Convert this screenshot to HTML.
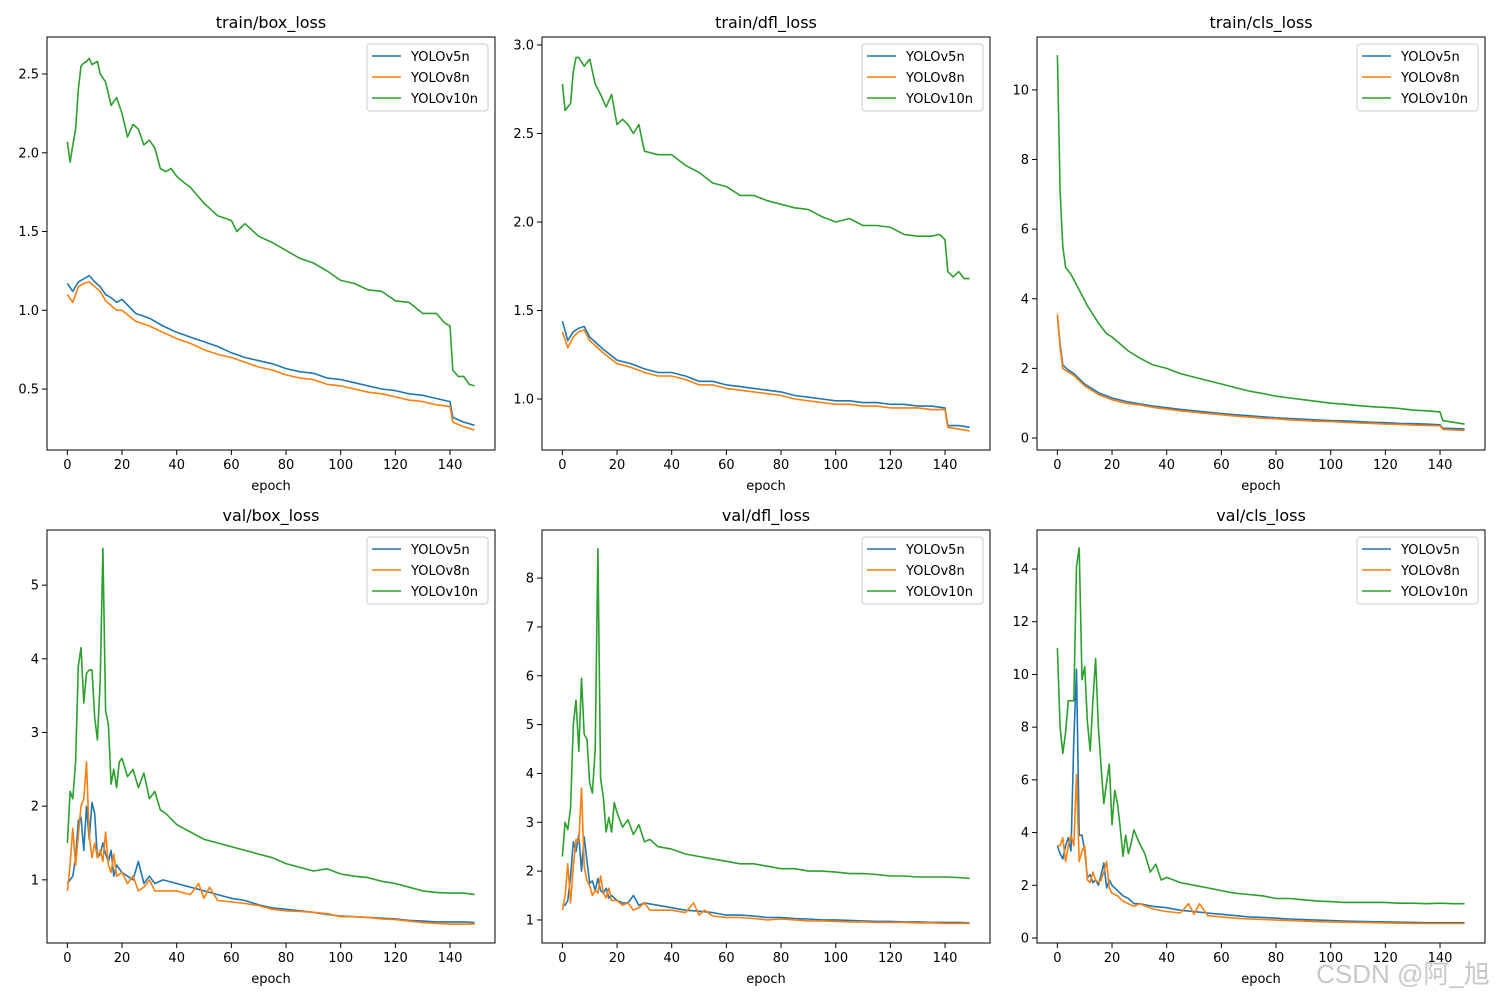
<!DOCTYPE html>
<html><head><meta charset="utf-8"><style>
body{margin:0;background:#fff}
svg{display:block;font-family:"DejaVu Sans","Liberation Sans",sans-serif}
</style></head><body>
<svg id="fig" width="1500" height="1000" viewBox="0 0 1500 1000" xmlns="http://www.w3.org/2000/svg">
<rect width="1500" height="1000" fill="#fff"/>
<text x="1403" y="983" font-size="26" fill="#c8c8c8" text-anchor="middle" font-family="Liberation Sans, Noto Sans CJK SC, sans-serif">CSDN @阿_旭</text>
</svg>
<script>
const seriesNames = ["YOLOv5n","YOLOv8n","YOLOv10n"];
const colors = ["#1f77b4","#ff7f0e","#2ca02c"];
const xTicks = [0,20,40,60,80,100,120,140];
const titles = ["train/box_loss","train/dfl_loss","train/cls_loss","val/box_loss","val/dfl_loss","val/cls_loss"];
const yTicks1 = [0.5,1.0,1.5,2.0,2.5];
const yTicks2 = [1.0,1.5,2.0,2.5,3.0];
const yTicks3 = [0,2,4,6,8,10];
const yTicks4 = [1,2,3,4,5];
const yTicks5 = [1,2,3,4,5,6,7,8];
const yTicks6 = [0,2,4,6,8,10,12,14];
const yDomains = [[0.113,2.735],[0.712,3.045],[-0.345,11.52],[0.143,5.748],[0.528,8.985],[-0.19,15.48]];

const p1v5 = [[0,1.17],[2,1.12],[4,1.18],[6,1.2],[8,1.22],[10,1.18],[12,1.15],[14,1.1],[16,1.08],[18,1.05],[20,1.07],[25,0.98],[30,0.95],[35,0.9],[40,0.86],[45,0.83],[50,0.8],[55,0.77],[60,0.73],[65,0.7],[70,0.68],[75,0.66],[80,0.63],[85,0.61],[90,0.6],[95,0.57],[100,0.56],[105,0.54],[110,0.52],[115,0.5],[120,0.49],[125,0.47],[130,0.46],[135,0.44],[140,0.42],[141,0.32],[145,0.29],[149,0.27]];
const p1v8 = [[0,1.1],[2,1.05],[4,1.15],[6,1.17],[8,1.18],[10,1.15],[12,1.12],[14,1.06],[16,1.03],[18,1.0],[20,1.0],[25,0.93],[30,0.9],[35,0.86],[40,0.82],[45,0.79],[50,0.75],[55,0.72],[60,0.7],[65,0.67],[70,0.64],[75,0.62],[80,0.59],[85,0.57],[90,0.56],[95,0.53],[100,0.52],[105,0.5],[110,0.48],[115,0.47],[120,0.45],[125,0.43],[130,0.42],[135,0.4],[140,0.39],[141,0.29],[145,0.26],[149,0.24]];
const p1v10 = [[0,2.07],[1,1.94],[2,2.05],[3,2.15],[4,2.4],[5,2.55],[6,2.57],[7,2.58],[8,2.6],[9,2.56],[10,2.57],[11,2.58],[12,2.5],[14,2.45],[16,2.3],[18,2.35],[20,2.25],[22,2.1],[24,2.18],[26,2.15],[28,2.05],[30,2.08],[32,2.03],[34,1.9],[36,1.88],[38,1.9],[40,1.85],[42,1.82],[45,1.78],[48,1.72],[50,1.68],[55,1.6],[60,1.57],[62,1.5],[65,1.55],[70,1.47],[75,1.43],[80,1.38],[85,1.33],[90,1.3],[95,1.25],[100,1.19],[105,1.17],[110,1.13],[115,1.12],[120,1.06],[125,1.05],[130,0.98],[135,0.98],[138,0.92],[140,0.9],[141,0.62],[143,0.58],[145,0.58],[147,0.53],[149,0.52]];

const p2v5 = [[0,1.44],[2,1.33],[4,1.38],[6,1.4],[8,1.41],[10,1.35],[15,1.28],[20,1.22],[25,1.2],[30,1.17],[35,1.15],[40,1.15],[45,1.13],[50,1.1],[55,1.1],[60,1.08],[65,1.07],[70,1.06],[75,1.05],[80,1.04],[85,1.02],[90,1.01],[95,1.0],[100,0.99],[105,0.99],[110,0.98],[115,0.98],[120,0.97],[125,0.97],[130,0.96],[135,0.96],[140,0.95],[141,0.85],[145,0.85],[149,0.84]];
const p2v8 = [[0,1.38],[2,1.29],[4,1.35],[6,1.38],[8,1.39],[10,1.33],[15,1.26],[20,1.2],[25,1.18],[30,1.15],[35,1.13],[40,1.13],[45,1.11],[50,1.08],[55,1.08],[60,1.06],[65,1.05],[70,1.04],[75,1.03],[80,1.02],[85,1.0],[90,0.99],[95,0.98],[100,0.97],[105,0.97],[110,0.96],[115,0.96],[120,0.95],[125,0.95],[130,0.95],[135,0.94],[140,0.94],[141,0.84],[145,0.83],[149,0.82]];
const p2v10 = [[0,2.78],[1,2.63],[2,2.65],[3,2.67],[4,2.85],[5,2.93],[6,2.93],[8,2.88],[10,2.92],[12,2.78],[14,2.72],[16,2.65],[18,2.72],[20,2.55],[22,2.58],[24,2.55],[26,2.5],[28,2.55],[30,2.4],[35,2.38],[40,2.38],[45,2.32],[50,2.28],[55,2.22],[60,2.2],[65,2.15],[70,2.15],[75,2.12],[80,2.1],[85,2.08],[90,2.07],[95,2.03],[100,2.0],[105,2.02],[110,1.98],[115,1.98],[120,1.97],[125,1.93],[130,1.92],[135,1.92],[138,1.93],[140,1.9],[141,1.72],[143,1.69],[145,1.72],[147,1.68],[149,1.68]];

const p3v5 = [[0,3.5],[1,2.7],[2,2.1],[4,1.95],[6,1.85],[8,1.7],[10,1.55],[15,1.3],[20,1.15],[25,1.05],[30,0.98],[35,0.92],[40,0.87],[45,0.82],[50,0.78],[55,0.74],[60,0.7],[65,0.67],[70,0.64],[75,0.61],[80,0.58],[85,0.56],[90,0.54],[95,0.52],[100,0.5],[105,0.49],[110,0.47],[115,0.45],[120,0.44],[125,0.42],[130,0.41],[135,0.4],[140,0.38],[141,0.28],[145,0.27],[149,0.26]];
const p3v8 = [[0,3.55],[1,2.6],[2,2.0],[4,1.9],[6,1.8],[8,1.65],[10,1.5],[15,1.25],[20,1.1],[25,1.0],[30,0.95],[35,0.88],[40,0.83],[45,0.78],[50,0.74],[55,0.7],[60,0.67],[65,0.63],[70,0.6],[75,0.57],[80,0.55],[85,0.52],[90,0.5],[95,0.48],[100,0.47],[105,0.45],[110,0.43],[115,0.42],[120,0.4],[125,0.39],[130,0.37],[135,0.36],[140,0.35],[141,0.25],[145,0.23],[149,0.22]];
const p3v10 = [[0,11.0],[1,7.1],[2,5.5],[3,4.9],[5,4.7],[7,4.4],[9,4.1],[11,3.8],[13,3.55],[15,3.3],[18,3.0],[20,2.9],[23,2.7],[26,2.5],[30,2.3],[35,2.1],[40,2.0],[45,1.85],[50,1.75],[55,1.65],[60,1.55],[65,1.45],[70,1.35],[75,1.28],[80,1.2],[85,1.15],[90,1.1],[95,1.05],[100,1.0],[105,0.97],[110,0.93],[115,0.9],[120,0.88],[125,0.85],[130,0.8],[135,0.78],[140,0.75],[141,0.5],[145,0.45],[149,0.4]];

const p4v5 = [[0,0.95],[1,1.0],[2,1.05],[3,1.3],[4,1.8],[5,1.85],[6,1.4],[7,2.0],[8,1.55],[9,2.05],[10,1.9],[11,1.3],[12,1.35],[13,1.5],[14,1.35],[15,1.25],[16,1.4],[17,1.05],[18,1.2],[20,1.1],[22,1.05],[24,1.0],[26,1.25],[28,0.95],[30,1.05],[32,0.95],[35,1.0],[40,0.95],[45,0.9],[50,0.85],[55,0.8],[60,0.75],[65,0.72],[70,0.66],[75,0.62],[80,0.6],[85,0.58],[90,0.56],[95,0.53],[100,0.51],[105,0.5],[110,0.49],[115,0.48],[120,0.47],[125,0.45],[130,0.44],[135,0.43],[140,0.43],[145,0.43],[149,0.42]];
const p4v8 = [[0,0.85],[1,1.2],[2,1.7],[3,1.2],[4,1.6],[5,2.0],[6,2.1],[7,2.6],[8,1.6],[9,1.3],[10,1.5],[11,1.3],[12,1.4],[13,1.25],[14,1.65],[15,1.2],[16,1.1],[17,1.35],[18,1.05],[20,1.1],[22,0.95],[24,1.05],[26,0.85],[28,0.9],[30,1.0],[32,0.85],[35,0.85],[40,0.85],[45,0.8],[48,0.95],[50,0.75],[52,0.9],[55,0.72],[60,0.7],[65,0.68],[70,0.65],[75,0.6],[80,0.58],[85,0.57],[90,0.56],[95,0.54],[100,0.5],[105,0.5],[110,0.49],[115,0.47],[120,0.46],[125,0.44],[130,0.42],[135,0.41],[140,0.4],[145,0.4],[149,0.4]];
const p4v10 = [[0,1.5],[1,2.2],[2,2.1],[3,2.6],[4,3.9],[5,4.15],[6,3.4],[7,3.8],[8,3.85],[9,3.85],[10,3.2],[11,2.9],[12,3.7],[13,5.5],[14,3.3],[15,3.1],[16,2.3],[17,2.5],[18,2.25],[19,2.6],[20,2.65],[22,2.4],[24,2.5],[26,2.25],[28,2.45],[30,2.1],[32,2.2],[34,1.95],[36,1.9],[40,1.75],[45,1.65],[50,1.55],[55,1.5],[60,1.45],[65,1.4],[70,1.35],[75,1.3],[80,1.22],[85,1.17],[90,1.12],[95,1.15],[100,1.08],[105,1.05],[110,1.03],[115,0.98],[120,0.95],[125,0.9],[130,0.85],[135,0.83],[140,0.82],[145,0.82],[149,0.8]];

const p5v5 = [[0,1.3],[1,1.3],[2,1.4],[3,1.9],[4,2.6],[5,2.4],[6,2.75],[7,2.0],[8,2.7],[9,2.2],[10,1.75],[11,1.8],[12,1.6],[13,1.85],[14,1.6],[15,1.55],[16,1.65],[17,1.45],[18,1.5],[20,1.4],[22,1.35],[24,1.35],[26,1.5],[28,1.3],[30,1.35],[35,1.3],[40,1.25],[45,1.2],[50,1.18],[55,1.15],[60,1.1],[65,1.1],[70,1.08],[75,1.05],[80,1.05],[85,1.03],[90,1.02],[95,1.0],[100,1.0],[105,0.99],[110,0.98],[115,0.97],[120,0.97],[125,0.96],[130,0.96],[135,0.95],[140,0.95],[145,0.95],[149,0.94]];
const p5v8 = [[0,1.2],[1,1.5],[2,2.15],[3,1.35],[4,2.1],[5,2.65],[6,2.6],[7,3.7],[8,2.1],[9,1.8],[10,1.7],[11,1.5],[12,1.6],[13,1.55],[14,1.9],[15,1.55],[16,1.45],[17,1.65],[18,1.4],[20,1.4],[22,1.3],[24,1.35],[26,1.2],[28,1.25],[30,1.35],[32,1.2],[35,1.2],[40,1.2],[45,1.15],[48,1.35],[50,1.1],[52,1.2],[55,1.08],[60,1.05],[65,1.05],[70,1.03],[75,1.0],[80,1.02],[85,1.0],[90,0.98],[95,0.98],[100,0.97],[105,0.96],[110,0.96],[115,0.95],[120,0.95],[125,0.95],[130,0.94],[135,0.94],[140,0.93],[145,0.93],[149,0.93]];
const p5v10 = [[0,2.3],[1,3.0],[2,2.85],[3,3.3],[4,5.0],[5,5.5],[6,4.45],[7,5.95],[8,4.8],[9,4.7],[10,3.8],[11,3.6],[12,4.5],[13,8.6],[14,3.9],[15,3.5],[16,2.8],[17,3.1],[18,2.8],[19,3.4],[20,3.2],[22,2.9],[24,3.05],[26,2.75],[28,2.95],[30,2.6],[32,2.65],[35,2.5],[40,2.45],[45,2.35],[50,2.3],[55,2.25],[60,2.2],[65,2.15],[70,2.15],[75,2.1],[80,2.05],[85,2.05],[90,2.0],[95,2.0],[100,1.98],[105,1.95],[110,1.95],[115,1.93],[120,1.9],[125,1.9],[130,1.88],[135,1.88],[140,1.88],[145,1.87],[149,1.85]];

const p6v5 = [[0,3.5],[1,3.2],[2,3.0],[3,3.5],[4,3.8],[5,3.3],[6,7.5],[7,10.2],[8,3.9],[9,3.9],[10,3.3],[11,2.3],[12,2.4],[13,2.1],[14,2.2],[15,2.0],[16,2.4],[17,2.85],[18,1.9],[19,2.2],[20,2.0],[22,1.8],[24,1.6],[26,1.5],[28,1.3],[30,1.3],[35,1.2],[40,1.15],[45,1.05],[50,1.0],[55,0.95],[60,0.9],[65,0.85],[70,0.8],[75,0.78],[80,0.75],[85,0.72],[90,0.7],[95,0.68],[100,0.66],[105,0.64],[110,0.63],[115,0.62],[120,0.61],[125,0.6],[130,0.59],[135,0.58],[140,0.58],[145,0.58],[149,0.58]];
const p6v8 = [[0,3.5],[1,3.5],[2,3.8],[3,2.9],[4,3.5],[5,3.9],[6,3.5],[7,6.2],[8,2.9],[9,3.3],[10,3.5],[11,2.2],[12,2.1],[13,2.5],[14,2.2],[15,2.1],[16,2.2],[17,2.5],[18,2.9],[19,1.9],[20,1.7],[22,1.6],[24,1.4],[26,1.3],[28,1.2],[30,1.3],[35,1.1],[40,1.0],[45,0.95],[48,1.3],[50,0.9],[52,1.3],[55,0.85],[60,0.8],[65,0.75],[70,0.72],[75,0.7],[80,0.68],[85,0.66],[90,0.64],[95,0.62],[100,0.61],[105,0.6],[110,0.59],[115,0.58],[120,0.57],[125,0.56],[130,0.55],[135,0.55],[140,0.55],[145,0.55],[149,0.55]];
const p6v10 = [[0,11.0],[1,8.0],[2,7.0],[3,7.8],[4,9.0],[5,9.0],[6,9.0],[7,14.1],[8,14.8],[9,9.8],[10,10.3],[11,8.2],[12,7.1],[13,9.0],[14,10.6],[15,8.0],[16,6.5],[17,5.1],[18,5.9],[19,6.6],[20,4.3],[21,5.6],[22,5.1],[23,4.2],[24,3.1],[25,3.9],[26,3.2],[27,3.6],[28,4.1],[30,3.6],[32,3.2],[34,2.5],[36,2.8],[38,2.2],[40,2.3],[45,2.1],[50,2.0],[55,1.9],[60,1.8],[65,1.7],[70,1.65],[75,1.6],[80,1.5],[85,1.5],[90,1.45],[95,1.4],[100,1.38],[105,1.35],[110,1.35],[115,1.35],[120,1.35],[125,1.32],[130,1.32],[135,1.3],[140,1.32],[145,1.3],[149,1.3]];

const NS = "http://www.w3.org/2000/svg";
const svg = document.getElementById("fig");
const wm = svg.lastElementChild;
const panelData = [[p1v5,p1v8,p1v10],[p2v5,p2v8,p2v10],[p3v5,p3v8,p3v10],[p4v5,p4v8,p4v10],[p5v5,p5v8,p5v10],[p6v5,p6v8,p6v10]];
const panelTicks = [yTicks1,yTicks2,yTicks3,yTicks4,yTicks5,yTicks6];
const colX = [47,542,1037], rowY = [37,530], PW = 448, PH = 413;
function mk(tag, attrs, parent){const e=document.createElementNS(NS,tag);for(const k in attrs)e.setAttribute(k,attrs[k]);parent.appendChild(e);return e;}
function fmt(v,ticks){return ticks.some(t=>!Number.isInteger(t))?v.toFixed(1):String(v);}
for(let p=0;p<6;p++){
  const x0=colX[p%3], y0=rowY[Math.floor(p/3)];
  const [dmin,dmax]=yDomains[p];
  const sx=e=>x0+(e+7.45)/163.9*PW;
  const sy=v=>y0+PH-(v-dmin)/(dmax-dmin)*PH;
  const g=mk("g",{},svg);
  
  
  const t=mk("text",{x:x0+PW/2,y:y0-9,"font-size":16,"text-anchor":"middle",fill:"#000"},g);
  t.textContent=titles[p];
  
  
  const clip=mk("clipPath",{id:"c"+p},g);
  mk("rect",{x:x0,y:y0,width:PW,height:PH},clip);
  xTicks.forEach(v=>{
    const x=sx(v);
    mk("line",{x1:x,x2:x,y1:y0+PH,y2:y0+PH+5,stroke:"#000","stroke-width":1},g);
    const tx=mk("text",{x:x,y:y0+PH+19,"font-size":13,"text-anchor":"middle"},g);
    tx.textContent=v;
    
    
  });
  panelTicks[p].forEach(v=>{
    const y=sy(v);
    mk("line",{x1:x0-5,x2:x0,y1:y,y2:y,stroke:"#000","stroke-width":1},g);
    const ty=mk("text",{x:x0-8,y:y+4.5,"font-size":13,"text-anchor":"end"},g);
    ty.textContent=fmt(v,panelTicks[p]);
    
    
  });
  const xl=mk("text",{x:x0+PW/2,y:y0+PH+40,"font-size":13,"text-anchor":"middle"},g);
  xl.textContent="epoch";
  
  
  panelData[p].forEach((ser,i)=>{
    const pl=mk("polyline",{points:ser.map(d=>sx(d[0]).toFixed(1)+","+sy(d[1]).toFixed(1)).join(" "),fill:"none",stroke:colors[i],"stroke-width":1.6,"stroke-linejoin":"round","clip-path":"url(#c"+p+")"},g);
    
    
  });
  mk("rect",{x:x0,y:y0,width:PW,height:PH,fill:"none",stroke:"#000","stroke-width":1},g);
  const lg=mk("g",{},g);
  
  
  const lx=x0+PW-128, ly=y0+7;
  mk("rect",{x:lx,y:ly,width:121,height:67,rx:3,fill:"#fff","fill-opacity":0.8,stroke:"#ccc"},lg);
  seriesNames.forEach((n,i)=>{
    const yy=ly+12+i*21;
    mk("line",{x1:lx+5,x2:lx+34,y1:yy,y2:yy,stroke:colors[i],"stroke-width":1.6},lg);
    const lt=mk("text",{x:lx+44,y:yy+5,"font-size":13},lg);
    lt.textContent=n;
    
    
  });
}
svg.appendChild(wm);
</script>
</body></html>
